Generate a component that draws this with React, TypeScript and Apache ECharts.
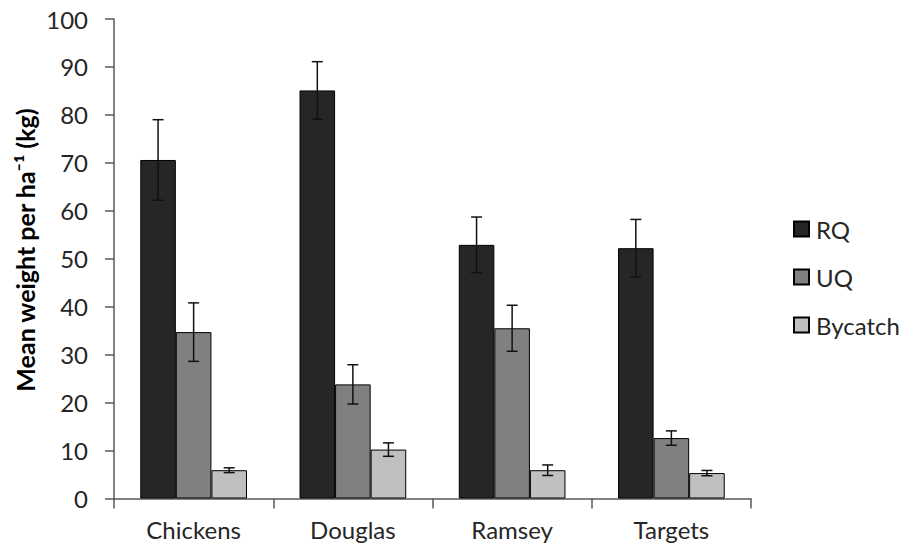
import React, { useEffect, useRef } from "react";
import * as echarts from "echarts";

// Sites on the x axis
const categories = ["Chickens", "Douglas", "Ramsey", "Targets"];
const seriesNames = ["RQ", "UQ", "Bycatch"];

// Mean weight per ha (kg)
const rqMeans = [70.6, 85.1, 52.9, 52.2];
const uqMeans = [34.7, 23.8, 35.5, 12.6];
const bycatchMeans = [5.9, 10.2, 5.9, 5.3];

// Standard errors
const rqErrors = [8.4, 6.0, 5.8, 6.0];
const uqErrors = [6.1, 4.1, 4.8, 1.5];
const bycatchErrors = [0.5, 1.4, 1.1, 0.55];

const yTicks = { min: 0, max: 100, interval: 10 };
const yTitle = "Mean weight per ha\u207B\u00B9 (kg)";

const colors = ["#262626", "#808080", "#c0c0c0"];
const FONT = "Lato, 'Open Sans', sans-serif";
const CATEGORY_GAP = 0.33;

const means = [rqMeans, uqMeans, bycatchMeans];
const errors = [rqErrors, uqErrors, bycatchErrors];

function errorSeries(idx: number) {
  const data = categories.map((_, i) => [i, means[idx][i], errors[idx][i]]);
  return {
    type: "custom",
    name: seriesNames[idx] + " SE",
    z: 10,
    silent: true,
    data,
    encode: { x: 0, y: [1] },
    renderItem: (params: any, api: any) => {
      const cat = api.value(0);
      const mean = api.value(1);
      const err = api.value(2);
      const band = api.size([1, 0])[0];
      const group = band * (1 - CATEGORY_GAP);
      const barW = group / 3;
      const center = api.coord([cat, mean])[0];
      const x = center - group / 2 + barW * (idx + 0.5);
      const yHi = api.coord([cat, mean + err])[1];
      const yLo = api.coord([cat, mean - err])[1];
      const cap = 5.5;
      const style = { stroke: "#111", lineWidth: 1.5 };
      return {
        type: "group",
        children: [
          { type: "line", shape: { x1: x, y1: yHi, x2: x, y2: yLo }, style },
          { type: "line", shape: { x1: x - cap, y1: yHi, x2: x + cap, y2: yHi }, style },
          { type: "line", shape: { x1: x - cap, y1: yLo, x2: x + cap, y2: yLo }, style },
        ],
      };
    },
  };
}

export default function App() {
  const ref = useRef<HTMLDivElement>(null);

  useEffect(() => {
    document.body.style.margin = "0";
    if (!ref.current) return;
    const chart = echarts.init(ref.current, undefined, { renderer: "svg" });

    const barSeries = seriesNames.map((name, idx) => ({
      type: "bar",
      name,
      data: means[idx],
      barGap: "0%",
      barCategoryGap: CATEGORY_GAP * 100 + "%",
      itemStyle: { color: colors[idx], borderColor: "#000", borderWidth: 1 },
    }));

    chart.setOption({
      animation: false,
      backgroundColor: "#fff",
      textStyle: { fontFamily: FONT },
      grid: { left: 114, right: 150, top: 19, bottom: 51.5 },
      legend: {
        data: seriesNames,
        orient: "vertical",
        left: 788,
        top: 212,
        itemWidth: 15,
        itemHeight: 15,
        itemGap: 24,
        icon: "rect",
        textStyle: { fontFamily: FONT, fontSize: 24, color: "#262626", padding: [0, 0, 0, 2] },
      },
      graphic: [
        {
          type: "text",
          x: 25,
          y: 250,
          rotation: Math.PI / 2,
          style: {
            text: yTitle,
            fontFamily: FONT,
            fontSize: 25,
            fontWeight: "bold",
            fill: "#000",
            align: "center",
            verticalAlign: "middle",
          },
        },
      ],
      xAxis: {
        type: "category",
        data: categories,
        axisLine: { lineStyle: { color: "#595959", width: 1.5 } },
        axisTick: { show: true, length: 10, lineStyle: { color: "#595959", width: 1.5 } },
        axisLabel: { fontFamily: FONT, fontSize: 24, color: "#262626", margin: 19 },
      },
      yAxis: {
        type: "value",
        min: yTicks.min,
        max: yTicks.max,
        interval: yTicks.interval,
        splitLine: { show: false },
        axisLine: { show: true, lineStyle: { color: "#595959", width: 1.5 } },
        axisTick: { show: true, length: 9, lineStyle: { color: "#595959", width: 1.5 } },
        axisLabel: { fontFamily: FONT, fontSize: 24, color: "#262626", margin: 26 },
      },
      series: [...barSeries, errorSeries(0), errorSeries(1), errorSeries(2)],
    });

    return () => chart.dispose();
  }, []);

  return <div ref={ref} style={{ width: 901, height: 550 }} />;
}
